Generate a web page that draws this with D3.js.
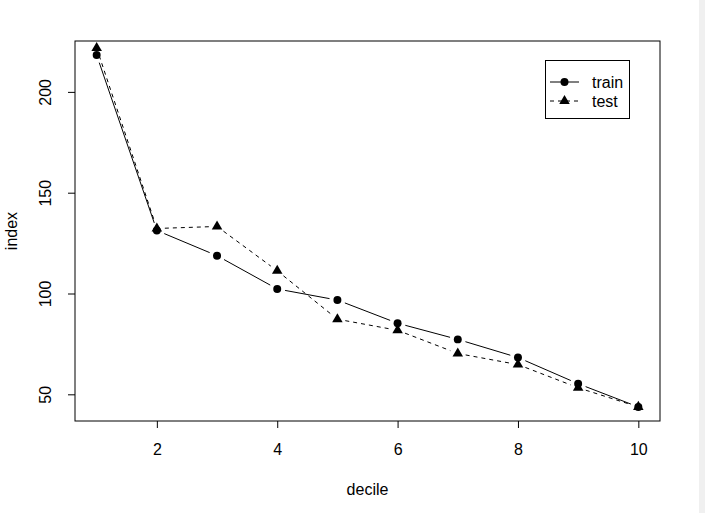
<!DOCTYPE html>
<html><head><meta charset="utf-8">
<script src="https://cdn.jsdelivr.net/npm/d3@7"></script>
<style>body{margin:0;background:#fff;}svg{display:block;font-family:"Liberation Sans",Arial,sans-serif;}</style>
</head><body>
<script>
const deciles = [1,2,3,4,5,6,7,8,9,10];
const trainIndex = [218.5,131.5,119,102.5,97,85.5,77.5,68.5,55.5,44];
const testIndex = [222,132.5,133.5,111.5,87.5,82,70.5,65,53.5,44];
const xTicks = [2,4,6,8,10];
const yTicks = [50,100,150,200];
const seriesNames = ["train","test"];

const W=705,H=513;
const box={l:75,r:660,t:41,b:421};
const svg=d3.select("body").append("svg").attr("width",W).attr("height",H);
svg.append("rect").attr("width",W).attr("height",H).attr("fill","#fff");
svg.append("rect").attr("x",699).attr("y",0).attr("width",6).attr("height",H).attr("fill","#f0f0f0");

const xe=d3.extent(deciles), xp=(xe[1]-xe[0])*0.04;
const ye=d3.extent(trainIndex), yp=(ye[1]-ye[0])*0.04;
const x=d3.scaleLinear().domain([xe[0]-xp,xe[1]+xp]).range([box.l,box.r]);
const y=d3.scaleLinear().domain([ye[0]-yp,ye[1]+yp]).range([box.b,box.t]);

const xa=svg.append("g").attr("transform",`translate(0,${box.b})`)
  .call(d3.axisBottom(x).tickValues(xTicks).tickSize(7).tickPadding(14).tickFormat(d3.format("d")));
const ya=svg.append("g").attr("transform",`translate(${box.l},0)`)
  .call(d3.axisLeft(y).tickValues(yTicks).tickSize(7).tickFormat(d3.format("d")));
[xa,ya].forEach(a=>{a.select(".domain").remove();a.selectAll("line").attr("stroke","#000");
  a.selectAll("text").attr("fill","#000").attr("font-size",16).attr("font-family","Liberation Sans, Arial, sans-serif");});
xa.selectAll("text").attr("dy","0.71em").attr("y",23);
ya.selectAll("text").attr("transform",d=>`translate(${-30},${y(d)}) rotate(-90)`).attr("x",0).attr("y",0).attr("dy","0.35em").attr("text-anchor","middle").attr("dx",0);
ya.selectAll(".tick").attr("transform","translate(0,0)");
ya.selectAll(".tick line").attr("y1",d=>y(d)).attr("y2",d=>y(d));

svg.append("rect").attr("x",box.l).attr("y",box.t).attr("width",box.r-box.l).attr("height",box.b-box.t)
  .attr("fill","none").attr("stroke","#000").attr("stroke-width",1);

svg.append("text").attr("x",(box.l+box.r)/2).attr("y",495).attr("text-anchor","middle").attr("font-size",16).text("decile");
svg.append("text").attr("transform",`translate(17,${(box.t+box.b)/2}) rotate(-90)`).attr("text-anchor","middle").attr("font-size",16).text("index");

const gap=8;
function drawSeries(vals,dash,sym){
  const pts=deciles.map((d,i)=>[x(d),y(vals[i])]);
  const segs=d3.pairs(pts).map(([a,b])=>{const dx=b[0]-a[0],dy=b[1]-a[1],L=Math.hypot(dx,dy);
    if(L<=2*gap)return null; const ux=dx/L,uy=dy/L;
    return [a[0]+ux*gap,a[1]+uy*gap,b[0]-ux*gap,b[1]-uy*gap];}).filter(s=>s);
  svg.append("g").selectAll("line").data(segs).join("line")
    .attr("x1",s=>s[0]).attr("y1",s=>s[1]).attr("x2",s=>s[2]).attr("y2",s=>s[3])
    .attr("stroke","#000").attr("stroke-width",1).attr("stroke-dasharray",dash);
  svg.append("g").selectAll("path").data(pts).join("path")
    .attr("d",d3.symbol().type(sym).size(sym===d3.symbolCircle?50:48)())
    .attr("transform",p=>`translate(${p[0]},${p[1]})`).attr("fill","#000");
}
drawSeries(trainIndex,null,d3.symbolCircle);
drawSeries(testIndex,"4,4",d3.symbolTriangle);

const lg=svg.append("g");
lg.append("rect").attr("x",545.5).attr("y",60.5).attr("width",84).attr("height",58).attr("fill","#fff").attr("stroke","#000");
const syms=[d3.symbolCircle,d3.symbolTriangle], dashes=[null,"4,4"];
seriesNames.forEach((n,i)=>{
  const yy=82+i*19;
  lg.append("line").attr("x1",550).attr("x2",579).attr("y1",yy).attr("y2",yy).attr("stroke","#000").attr("stroke-dasharray",dashes[i]);
  lg.append("path").attr("d",d3.symbol().type(syms[i]).size(i===0?50:48)()).attr("transform",`translate(564.5,${yy})`).attr("fill","#000");
  lg.append("text").attr("x",592).attr("y",yy).attr("dy","0.35em").attr("font-size",16).text(n);
});
</script>
</body></html>
